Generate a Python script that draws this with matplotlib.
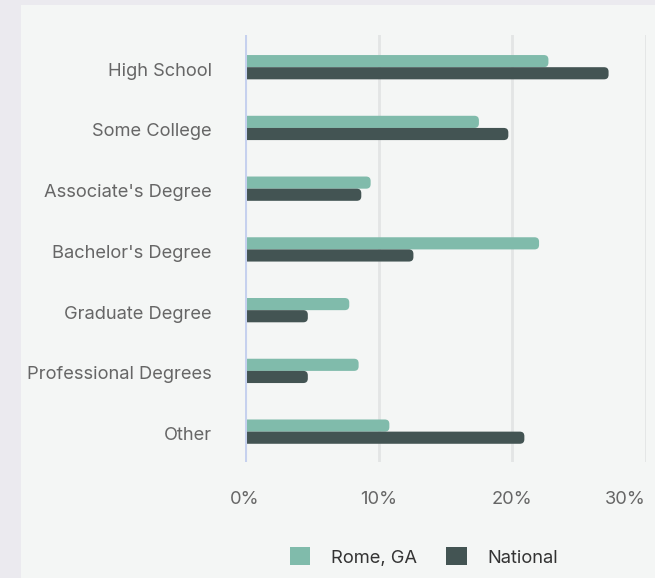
import matplotlib
matplotlib.use("Agg")
import matplotlib.pyplot as plt
from matplotlib.patches import FancyBboxPatch, Rectangle
import matplotlib.transforms as mtransforms
import numpy as np

categories = ["High School", "Some College", "Associate's Degree", "Bachelor's Degree",
              "Graduate Degree", "Professional Degrees", "Other"]
rome = [22.7, 17.5, 9.4, 22.0, 7.8, 8.5, 10.8]
national = [27.2, 19.7, 8.7, 12.6, 4.7, 4.7, 20.9]
series_names = ["Rome, GA", "National"]
xticks = [0, 10, 20, 30]
xtick_labels = ["0%", "10%", "20%", "30%"]

c_rome = "#80bbab"
c_nat = "#435453"
FONT = ["Inter", "DejaVu Sans"]
plt.rcParams['font.family'] = FONT

W, H = 655, 578
fig = plt.figure(figsize=(W / 100, H / 100), dpi=100)
fig.patch.set_facecolor("#ebeaef")
# panel
panel = Rectangle((21 / W, 0), 1 - 21 / W, 1 - 5 / H, transform=fig.transFigure,
                  facecolor="#f4f6f5", edgecolor="none", zorder=-10)
fig.add_artist(panel)

ax = fig.add_axes([245 / W, 1 - 462 / H, (646 - 245) / W, (462 - 35) / H])
ax.set_zorder(1)
ax.set_facecolor("none")
y = np.arange(len(categories))
h = 0.2
bars_r = ax.barh(y - h / 2, rome, height=h, color=c_rome, zorder=3)
bars_n = ax.barh(y + h / 2, national, height=h, color=c_nat, zorder=3)
ax.set_xlim(0, 30)
ax.set_ylim(len(categories) - 0.5, -0.53)

# replace bars with rounded-end versions (left end hidden past the axis)
px_x = (646 - 245) / 30.0
px_y = (462 - 35) / (len(categories) + 0.03)
aspect = (1 / px_y) / (1 / px_x)
r = 4.5 / px_x
for bars in (bars_r, bars_n):
    for p in bars:
        p.set_visible(False)
        fb = FancyBboxPatch((p.get_x() - 2 * r, p.get_y()), p.get_width() + 2 * r, p.get_height(),
                            boxstyle=f"round,pad=0,rounding_size={r}",
                            mutation_aspect=aspect, facecolor=p.get_facecolor(),
                            edgecolor="none", zorder=3)
        ax.add_patch(fb)

for s in ax.spines.values():
    s.set_visible(False)
ax.set_xticks(xticks)
ax.set_xticklabels(xtick_labels)
ax.set_yticks(y)
ax.set_yticklabels(categories)
ax.tick_params(axis="both", length=0, labelsize=13.2, labelcolor="#666666")
ax.tick_params(axis="y", pad=24)
ax.tick_params(axis="x", pad=21)
ax.get_xticklabels()[-1].set_horizontalalignment("right")
off = mtransforms.ScaledTranslation(0, -2 / 100, fig.dpi_scale_trans)
for lbl in ax.get_yticklabels():
    lbl.set_transform(lbl.get_transform() + off)
ax.grid(axis="x", color="#e3e5e5", linewidth=2, zorder=1)
ax.axvline(0, color="#c6d1ee", linewidth=2.2, zorder=4)

leg_handles = [Rectangle((0, 0), 1, 1, facecolor=c_rome), Rectangle((0, 0), 1, 1, facecolor=c_nat)]
leg = fig.legend(leg_handles, series_names, loc="center", bbox_to_anchor=(424 / W, 1 - 557 / H),
                 ncol=2, frameon=False, fontsize=13.2, handlelength=1.1, handleheight=1.1,
                 handletextpad=1.15, columnspacing=1.6)
for t in leg.get_texts():
    t.set_color("#333333")

fig.savefig("out.png", dpi=100, facecolor=fig.get_facecolor())
